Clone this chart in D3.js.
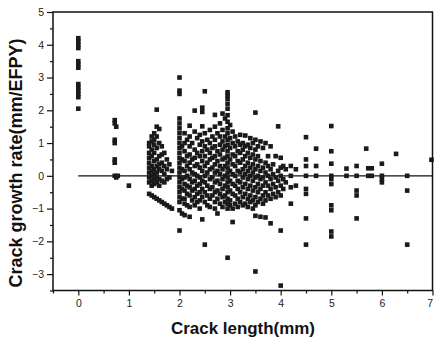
<!DOCTYPE html>
<html><head><meta charset="utf-8">
<script src="https://cdn.jsdelivr.net/npm/d3@7/dist/d3.min.js"></script>
<style>
html,body{margin:0;padding:0;background:#fff;}
svg{display:block;}
text{font-family:Arial,"Liberation Sans",sans-serif;}
</style></head>
<body>
<script>
// Tick values
const xTicks = [0,1,2,3,4,5,6,7];
const yTicks = [-3,-2,-1,0,1,2,3,4,5];
const xMinor = [-0.5,0.5,1.5,2.5,3.5,4.5,5.5,6.5];
const yMinor = [-3.5,-2.5,-1.5,-0.5,0.5,1.5,2.5,3.5,4.5];

// Data: [crack length (mm), [crack growth rates (mm/EFPY)]]
const colsInitial = [
  [0.0, [4.2,4.1,4.0,3.9,3.5,3.4,3.3,2.8,2.7,2.6,2.5,2.4,2.05]],
  [0.72,[1.7,1.6,1.1,1.0,0.5,0.4,0.0]],
  [0.75,[1.5,-0.05]],
  [0.78,[0.0]],
  [1.0, [-0.3]]
];
const colsBand15 = [
  [1.4, [1.0,0.9,0.7,0.55,0.4,0.25,0.1,-0.05,-0.2,-0.55]],
  [1.45,[1.2,1.05,0.8,0.6,0.3,0.15,0.0,-0.15,-0.3,-0.6]],
  [1.5, [1.3,1.1,0.95,0.7,0.45,0.2,0.05,-0.1,-0.25,-0.65]],
  [1.55,[2.02,1.5,1.2,0.85,0.5,0.3,0.1,-0.05,-0.2,-0.7]],
  [1.6, [1.43,1.0,0.6,0.35,0.2,-0.1,-0.3,-0.75]],
  [1.65,[0.9,0.65,0.4,0.15,-0.15,-0.8]],
  [1.7, [0.7,0.3,0.05,-0.2,-0.85]],
  [1.75,[0.5,0.2,-0.1,-0.9]],
  [1.8, [0.35,-0.05,-0.95]],
  [1.85,[0.15,-1.0]]
];
const colsBand20 = [
  [2.0, [3.0,2.6,2.5,1.75,1.6,1.45,1.3,1.15,1.0,0.85,0.7,0.55,0.4,0.25,0.1,-0.05,-0.2,-0.35,-0.5,-0.65,-0.8,-1.05,-1.67]],
  [2.05,[0.9,0.5,0.2,-0.1,-0.4,-0.7,-1.15]],
  [2.1, [1.3,1.0,0.75,0.45,0.15,-0.05,-0.25,-0.45,-0.7,-0.85,-1.2]],
  [2.15,[1.1,0.6,0.3,0.0,-0.3,-0.55,-0.9]],
  [2.2, [1.53,1.2,0.9,0.65,0.4,0.2,-0.1,-0.35,-0.6,-0.95,-1.25]],
  [2.25,[1.0,0.5,0.1,-0.2,-0.45,-0.75]],
  [2.3, [1.99,1.35,0.8,0.55,0.3,0.05,-0.15,-0.4,-0.65,-0.9]],
  [2.35,[1.15,0.7,0.35,0.0,-0.3,-0.55,-0.8]],
  [2.4, [1.25,0.95,0.6,0.25,-0.05,-0.25,-0.5,-0.75,-1.0]],
  [2.45,[2.08,1.95,1.51,1.05,0.75,0.45,0.15,-0.15,-0.4,-0.65,-1.33]]
];
const colsBand25 = [
  [2.5, [2.58,1.3,0.9,0.6,0.3,0.0,-0.2,-0.5,-0.8,-2.1]],
  [2.55,[1.1,0.8,0.4,0.1,-0.3,-0.6,-0.9]],
  [2.6, [1.4,1.0,0.7,0.5,0.2,-0.1,-0.4,-0.7,-0.95]],
  [2.65,[1.2,0.85,0.55,0.25,-0.05,-0.35,-0.6]],
  [2.7, [1.86,1.5,1.1,0.9,0.6,0.35,0.1,-0.2,-0.5,-0.8,-1.0]],
  [2.75,[1.3,0.75,0.45,0.15,-0.15,-0.45,-0.7,-1.15]],
  [2.8, [1.6,1.2,0.95,0.65,0.3,0.05,-0.25,-0.55,-0.85]],
  [2.85,[1.9,1.4,1.05,0.8,0.5,0.2,-0.1,-0.4,-0.65,-0.95]],
  [2.9, [1.75,1.2,0.9,0.55,0.3,0.0,-0.3,-0.6,-0.8]],
  [2.95,[2.55,2.45,2.35,2.2,2.05,1.85,1.65,1.45,1.3,1.1,0.95,0.75,0.6,0.4,0.25,0.1,-0.05,-0.2,-0.35,-0.5,-0.7,-0.85,-1.0,-2.5]]
];
const colsBand30 = [
  [3.0, [1.55,1.15,0.85,0.5,0.15,-0.15,-0.45,-0.75,-0.9]],
  [3.05,[1.35,1.0,0.65,0.35,0.05,-0.25,-0.55,-1.0,-1.41]],
  [3.1, [1.2,0.9,0.6,0.3,0.0,-0.3,-0.6,-0.85]],
  [3.15,[1.05,0.75,0.45,0.15,-0.15,-0.4,-0.7,-0.95]],
  [3.2, [1.25,0.95,0.7,0.4,0.1,-0.2,-0.5,-0.8]],
  [3.25,[1.0,0.8,0.5,0.2,-0.05,-0.35,-0.65,-0.9]],
  [3.3, [1.23,0.9,0.6,0.3,0.05,-0.25,-0.55,-0.85]],
  [3.35,[0.95,0.7,0.4,0.15,-0.1,-0.4,-0.7,-0.95]],
  [3.4, [1.15,0.85,0.55,0.25,0.0,-0.3,-0.6,-0.8]],
  [3.45,[1.0,0.65,0.35,0.1,-0.15,-0.45,-0.75,-1.0]]
];
const colsBand35 = [
  [3.5, [1.93,1.1,0.8,0.5,0.2,-0.05,-0.35,-0.65,-0.9,-1.22,-2.92]],
  [3.55,[0.9,0.6,0.3,0.0,-0.25,-0.5,-0.8]],
  [3.6, [1.05,0.45,0.15,-0.1,-0.4,-0.7,-1.25]],
  [3.65,[0.85,0.25,-0.05,-0.3,-0.6,-0.85]],
  [3.7, [1.0,0.4,0.1,-0.2,-0.5,-0.75,-1.27]],
  [3.75,[0.6,0.3,0.0,-0.3,-0.6]],
  [3.8, [0.9,0.2,-0.1,-0.4,-0.7,-1.45]],
  [3.85,[0.35,0.05,-0.25,-0.55]],
  [3.9, [0.6,-0.05,-0.35,-0.65]],
  [3.95,[1.51,0.15,-0.15,-0.5]]
];
const colsTail = [
  [4.0, [0.55,0.25,0.0,-0.3,-0.6,-1.67,-3.35]],
  [4.05,[0.3,-0.1,-0.4]],
  [4.1, [0.2,-0.2]],
  [4.2, [0.3,0.0,-0.35,-0.85]],
  [4.3, [0.2,-0.3]],
  [4.5, [1.18,0.5,0.3,0.0,-0.4,-0.55,-1.3,-2.1]],
  [4.7, [0.83,0.3,0.0]],
  [5.0, [1.52,0.75,0.37,0.0,-0.1,-0.25,-0.9,-1.05,-1.7,-1.85]],
  [5.3, [0.22,0.0]],
  [5.5, [0.3,0.0,-0.45,-0.6,-1.3]],
  [5.69,[0.83]],
  [5.73,[0.23,0.0]],
  [5.8, [0.23,0.0]],
  [6.0, [0.37,0.0,-0.1,-0.2]],
  [6.28,[0.67]],
  [6.5, [0.0,-0.45,-2.1]],
  [6.98,[0.49]]
];

const W = 434, H = 339;
const svg = d3.select("body").append("svg").attr("width", W).attr("height", H);

const x = d3.scaleLinear().domain([-0.5, 7]).range([53, 432.5]);
const y = d3.scaleLinear().domain([-3.5, 5]).range([290.5, 12]);

const points = [];
[colsInitial, colsBand15, colsBand20, colsBand25, colsBand30, colsBand35, colsTail]
  .forEach(cols => cols.forEach(([len, rates]) => rates.forEach(r => points.push([len, r]))));

// zero reference line
svg.append("line")
  .attr("x1", x(0)).attr("x2", x(7))
  .attr("y1", y(0)).attr("y2", y(0))
  .attr("stroke", "#111").attr("stroke-width", 1.3);

// markers
const s = 4.6;
svg.append("g").selectAll("rect").data(points).join("rect")
  .attr("x", d => x(d[0]) - s/2)
  .attr("y", d => y(d[1]) - s/2)
  .attr("width", s).attr("height", s)
  .attr("fill", "#1a1a1a");

// axes
const fontTick = g => g.selectAll("text")
  .attr("font-family", "Arial, 'Liberation Sans', sans-serif")
  .attr("font-size", 10.5).attr("fill", "#222");

const xAxis = svg.append("g").attr("transform", `translate(0,${y(-3.5)})`)
  .call(d3.axisBottom(x).tickValues(xTicks).tickSize(5).tickSizeOuter(0).tickPadding(4).tickFormat(d3.format("d")));
xAxis.call(fontTick);
xAxis.select(".domain").remove();
// keep the last label inside the window
xAxis.selectAll(".tick text").filter(d => d === 7).attr("text-anchor", "end").attr("dx", 0);
const xAxisMinor = svg.append("g").attr("transform", `translate(0,${y(-3.5)})`)
  .call(d3.axisBottom(x).tickValues(xMinor).tickSize(3).tickSizeOuter(0).tickFormat(""));
xAxisMinor.select(".domain").remove();

const yAxis = svg.append("g").attr("transform", `translate(${x(-0.5)},0)`)
  .call(d3.axisLeft(y).tickValues(yTicks).tickSize(6).tickSizeOuter(0).tickPadding(3).tickFormat(d3.format("d")));
yAxis.call(fontTick);
yAxis.select(".domain").remove();
const yAxisMinor = svg.append("g").attr("transform", `translate(${x(-0.5)},0)`)
  .call(d3.axisLeft(y).tickValues(yMinor).tickSize(3).tickSizeOuter(0).tickFormat(""));
yAxisMinor.select(".domain").remove();

svg.selectAll(".tick line").attr("stroke", "#111").attr("stroke-width", 1.2);

// frame
svg.append("rect")
  .attr("x", x(-0.5)).attr("y", y(5))
  .attr("width", x(7) - x(-0.5)).attr("height", y(-3.5) - y(5))
  .attr("fill", "none").attr("stroke", "#111").attr("stroke-width", 1.5);

// axis titles
svg.append("text")
  .attr("x", 243).attr("y", 334)
  .attr("text-anchor", "middle")
  .attr("font-size", 17).attr("font-weight", "bold").attr("fill", "#111")
  .attr("textLength", 144).attr("lengthAdjust", "spacingAndGlyphs")
  .text("Crack length(mm)");

svg.append("text")
  .attr("transform", "translate(22,163) rotate(-90)")
  .attr("text-anchor", "middle")
  .attr("font-size", 19).attr("font-weight", "bold").attr("fill", "#111")
  .attr("textLength", 249).attr("lengthAdjust", "spacingAndGlyphs")
  .text("Crack growth rate(mm/EFPY)");
</script>
</body></html>
